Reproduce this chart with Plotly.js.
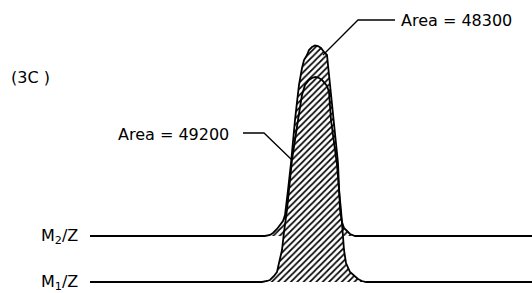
<!DOCTYPE html>
<html>
<head>
<meta charset="utf-8">
<script src="https://cdn.plot.ly/plotly-3.0.1.min.js"></script>
<style>
  html, body { margin: 0; padding: 0; background: #fff; }
  #chart { width: 532px; height: 293px; }
</style>
</head>
<body>
<div id="chart"></div>
<script>
// Time axis samples and detector intensities
const t_m2 = [90, 265, 270, 273, 277, 280, 283, 285, 286, 288, 291, 292, 294, 295, 297, 299, 302, 304, 307, 309, 312, 315, 318, 321, 324, 327, 328, 330, 332, 334, 336, 338, 340, 342, 344, 347, 350, 355, 532];
const i_m2 = [0, 0, 1, 3, 7, 11, 15, 21, 31, 46, 73, 86, 106, 116, 134, 151, 168, 176, 181, 186, 189, 190.5, 190, 188, 184, 181, 171, 151, 134, 115, 96, 73, 26, 14, 8, 5, 2, 0, 0];

const t_m1 = [90, 262, 267, 270, 274, 277, 279, 282, 284, 287, 292, 295, 298, 302, 305, 309, 312, 315.5, 319, 322, 325, 327, 329, 331, 333, 335, 337, 339, 341, 344, 346, 350, 354, 358, 362, 366, 532];
const i_m1 = [0, 0, 1, 2, 6, 10, 19, 32, 50, 72, 122, 144, 162, 187, 197, 202, 204, 205, 204, 202, 199, 196, 190, 162, 147, 132, 117, 92, 72, 32, 19, 10, 6, 3, 1, 0, 0];

const traceLabels = ["M<sub>2</sub>/Z", "M<sub>1</sub>/Z"];
const areaLabels = ["Area = 48300", "Area = 49200"];
const panelLabel = "(3C )";

// vertical offset of the M2 trace above the M1 trace
const m2Offset = 46;
const m2y = i_m2.map(v => v + m2Offset);
const m2base = t_m2.map(() => m2Offset);

const hatch = (bg) => ({ shape: '/', size: 4.5, solidity: 0.38, fgcolor: '#000', bgcolor: bg });

const traces = [
  // fills first
  { x: t_m2, y: m2base, mode: 'lines', line: { width: 0, color: 'rgba(0,0,0,0)' }, hoverinfo: 'skip' },
  { x: t_m2, y: m2y, mode: 'lines', line: { width: 0, color: 'rgba(0,0,0,0)' },
    fill: 'tonexty', fillcolor: 'rgba(0,0,0,0)', fillpattern: hatch('rgba(0,0,0,0)'), hoverinfo: 'skip' },
  { x: t_m1, y: i_m1, mode: 'lines', line: { width: 0, color: 'rgba(0,0,0,0)' },
    fill: 'tozeroy', fillcolor: '#ffffff', fillpattern: hatch('#ffffff'), hoverinfo: 'skip' },
  // outlines on top
  { x: t_m1, y: i_m1, mode: 'lines', line: { color: '#000', width: 1.8 }, hoverinfo: 'skip' },
  { x: t_m2, y: m2y, mode: 'lines', line: { color: '#000', width: 1.8 }, hoverinfo: 'skip' }
];

const font = { family: 'DejaVu Sans, sans-serif', size: 16, color: '#000' };

const layout = {
  width: 532, height: 293,
  margin: { l: 0, r: 0, t: 0, b: 0 },
  paper_bgcolor: '#fff', plot_bgcolor: '#fff',
  showlegend: false,
  xaxis: { range: [0, 532], visible: false, fixedrange: true },
  yaxis: { range: [-11, 282], visible: false, fixedrange: true },
  shapes: [
    { type: 'path', xref: 'x', yref: 'y', path: 'M 395,262 L 358,262 L 323,227', line: { color: '#000', width: 1.3 } },
    { type: 'path', xref: 'x', yref: 'y', path: 'M 243,149 L 264,149 L 292,122', line: { color: '#000', width: 1.3 } }
  ],
  annotations: [
    { x: 399, y: 262, xref: 'x', yref: 'y', text: areaLabels[0], showarrow: false, xanchor: 'left', yanchor: 'middle', font: font },
    { x: 116, y: 148, xref: 'x', yref: 'y', text: areaLabels[1], showarrow: false, xanchor: 'left', yanchor: 'middle', font: font },
    { x: 9, y: 205, xref: 'x', yref: 'y', text: panelLabel, showarrow: false, xanchor: 'left', yanchor: 'middle', font: font },
    { x: 80, y: m2Offset, xref: 'x', yref: 'y', text: traceLabels[0], showarrow: false, xanchor: 'right', yanchor: 'middle', font: font },
    { x: 80, y: 0, xref: 'x', yref: 'y', text: traceLabels[1], showarrow: false, xanchor: 'right', yanchor: 'middle', font: font }
  ]
};

Plotly.newPlot('chart', traces, layout, { staticPlot: true, displayModeBar: false });
</script>
</body>
</html>
